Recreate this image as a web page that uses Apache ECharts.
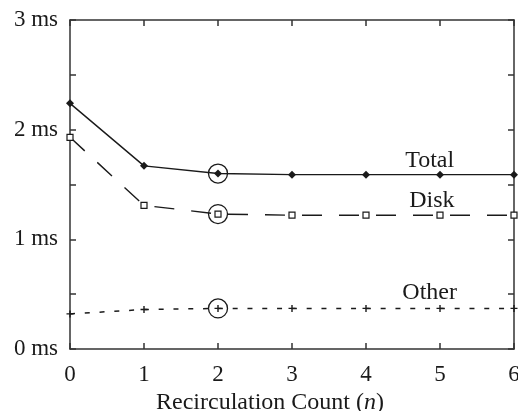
<!DOCTYPE html>
<html>
<head>
<meta charset="utf-8">
<script src="https://cdn.jsdelivr.net/npm/echarts@6/dist/echarts.min.js"></script>
<style>
  html, body { margin: 0; padding: 0; background: #fff; }
  #chart { width: 518px; height: 411px; }
</style>
</head>
<body>
<div id="chart"></div>
<script>
// Recirculation count on the x axis
const counts = [0, 1, 2, 3, 4, 5, 6];
// Latency components in milliseconds
const totalMs = [2.24, 1.67, 1.60, 1.59, 1.59, 1.59, 1.59];
const diskMs  = [1.93, 1.31, 1.23, 1.22, 1.22, 1.22, 1.22];
const otherMs = [0.32, 0.36, 0.37, 0.37, 0.37, 0.37, 0.37];
// Y tick labels (every whole millisecond)
const yTickLabels = ['0 ms', '1 ms', '2 ms', '3 ms'];
// Index of the chosen recirculation count, circled on each curve
const chosenIdx = 2;

const FONT = '"Liberation Serif", "Times New Roman", serif';
const INK = '#1a1a1a';

function pairs(vals) { return counts.map((c, i) => [c, vals[i]]); }

// Circle drawn around the chosen point of a curve
function chosenRing(vals) {
  return {
    symbol: 'circle',
    symbolSize: 19,
    silent: true,
    label: { show: false },
    itemStyle: { color: 'rgba(0,0,0,0)', borderColor: INK, borderWidth: 1.3 },
    data: [{ coord: [counts[chosenIdx], vals[chosenIdx]] }]
  };
}

// Curve name placed next to its line
function curveName(text, x, y) {
  return {
    type: 'scatter', silent: true, symbolSize: 1,
    data: [[x, y]],
    itemStyle: { color: 'rgba(0,0,0,0)', opacity: 1 },
    label: {
      show: true, position: 'inside', formatter: text, opacity: 1,
      fontFamily: FONT, fontSize: 24, color: INK, textBorderWidth: 0
    },
    z: 5
  };
}

const plusPath = 'path://M-0.8,-4H0.8V-0.8H4V0.8H0.8V4H-0.8V0.8H-4V-0.8H-0.8Z';

const chart = echarts.init(document.getElementById('chart'), null, { renderer: 'canvas' });

const axisLineStyle = { color: '#333', width: 1.5 };
const frameLine = { show: true, onZero: false, lineStyle: axisLineStyle };
const innerTick = { show: true, inside: true, length: 6, lineStyle: axisLineStyle };

chart.setOption({
  animation: false,
  backgroundColor: '#fff',
  grid: { left: 70, right: 4, top: 20, bottom: 62, containLabel: false, outerBoundsMode: 'none' },
  xAxis: [{
    type: 'value', min: 0, max: 6, interval: 1,
    position: 'bottom',
    axisLine: frameLine,
    axisTick: innerTick,
    axisLabel: { fontFamily: FONT, fontSize: 23, color: INK, margin: 14 },
    splitLine: { show: false },
    name: 'Recirculation Count ({i|n})',
    nameLocation: 'middle', nameGap: 38,
    nameTextStyle: {
      fontFamily: FONT, fontSize: 24, color: INK,
      padding: [0, 44, 0, 0],
      rich: { i: { fontFamily: FONT, fontSize: 24, fontStyle: 'italic', color: INK } }
    }
  }, {
    type: 'value', min: 0, max: 6, interval: 1,
    position: 'top',
    axisLine: frameLine,
    axisTick: innerTick,
    axisLabel: { show: false },
    splitLine: { show: false }
  }],
  yAxis: [{
    type: 'value', min: 0, max: 3, interval: 0.5,
    position: 'left',
    axisLine: frameLine,
    axisTick: innerTick,
    axisLabel: {
      fontFamily: FONT, fontSize: 23, color: INK, margin: 12,
      formatter: v => Number.isInteger(v) ? yTickLabels[v] : ''
    },
    splitLine: { show: false }
  }, {
    type: 'value', min: 0, max: 3, interval: 0.5,
    position: 'right',
    axisLine: frameLine,
    axisTick: innerTick,
    axisLabel: { show: false },
    splitLine: { show: false }
  }],
  series: [
    {
      name: 'Total', type: 'line', data: pairs(totalMs),
      symbol: 'diamond', symbolSize: 8, showAllSymbol: true,
      lineStyle: { color: INK, width: 1.4, type: 'solid' },
      itemStyle: { color: INK },
      markPoint: chosenRing(totalMs), z: 3
    },
    {
      name: 'Disk', type: 'line', data: pairs(diskMs),
      symbol: 'rect', symbolSize: 6, showAllSymbol: true,
      lineStyle: { color: INK, width: 1.4, type: [20, 17] },
      itemStyle: { color: '#fff', borderColor: INK, borderWidth: 1.2 },
      markPoint: chosenRing(diskMs), z: 3
    },
    {
      name: 'Other', type: 'line', data: pairs(otherMs),
      symbol: plusPath, symbolSize: 7, showAllSymbol: true,
      lineStyle: { color: INK, width: 1.5, type: [5, 9.8] },
      itemStyle: { color: INK },
      markPoint: chosenRing(otherMs), z: 3
    },
    curveName('Total', 4.86, 1.72),
    curveName('Disk', 4.89, 1.35),
    curveName('Other', 4.86, 0.51)
  ]
});
</script>
</body>
</html>
